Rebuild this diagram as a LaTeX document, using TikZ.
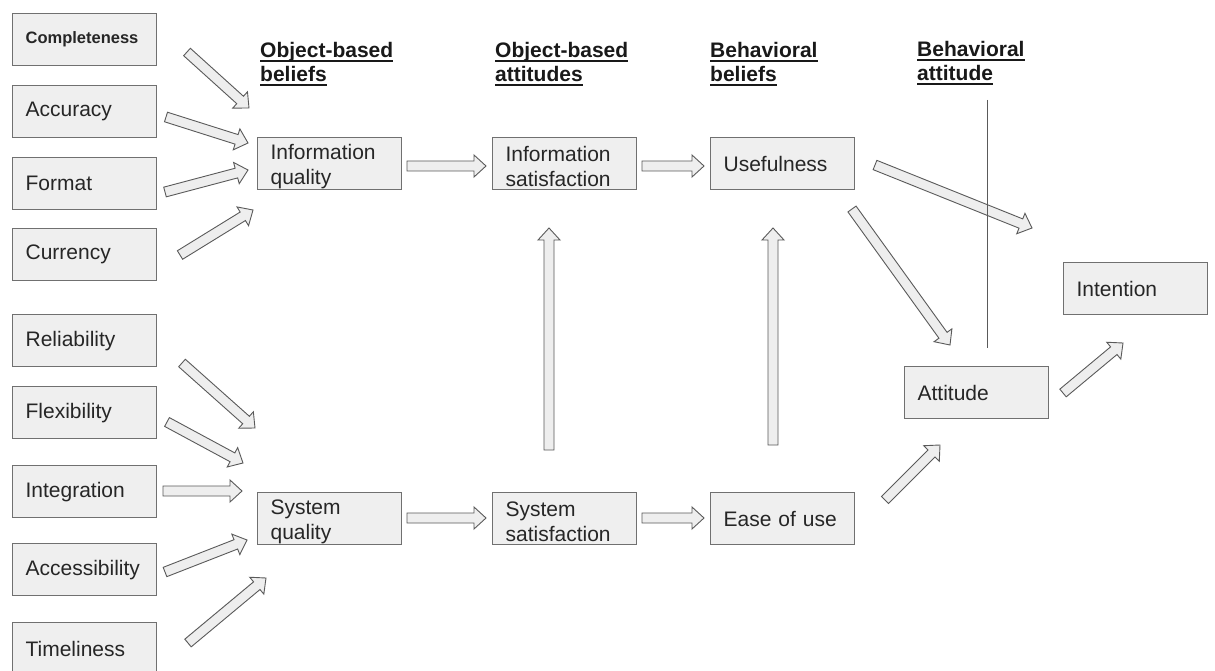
\documentclass[tikz,border=0pt]{standalone}
\usepackage{fontspec}
\setmainfont{Liberation Sans}
\usetikzlibrary{calc}
\definecolor{boxfill}{HTML}{EFEFEF}
\definecolor{boxline}{HTML}{707070}
\definecolor{txt}{HTML}{262626}
\definecolor{arrfill}{HTML}{EEEEEE}
\definecolor{arrline}{HTML}{5A5A5A}
\newcommand{\hdul}[1]{\setbox0\hbox{#1}\rlap{\vrule height -2.4pt depth 4.2pt width \wd0}\box0}
\newcommand{\lowstrut}{\rule{0pt}{21pt}}
\newcommand{\blkarrow}[2]{%
  \coordinate (nk) at ($(#2)!12pt!(#1)$);
  \draw[barrow] ($(#1)!5pt!90:(#2)$) -- ($(nk)!5pt!-90:(#1)$) -- ($(nk)!11pt!-90:(#1)$) -- (#2)
    -- ($(nk)!11pt!90:(#1)$) -- ($(nk)!5pt!90:(#1)$) -- ($(#1)!5pt!-90:(#2)$) -- cycle;}
\tikzset{
  box/.style={draw=boxline, line width=1.2pt, fill=boxfill, anchor=north west,
    minimum width=144pt, minimum height=52pt, inner sep=0pt, text width=118pt,
    align=left, text=txt, font=\fontsize{21}{25}\selectfont},
  barrow/.style={draw=arrline, line width=0.9pt, fill=arrfill, line join=miter},
  head/.style={anchor=north west, inner sep=0pt, align=left,
    font=\fontsize{21}{24}\selectfont\bfseries, text=black!90},
}
\begin{document}
\begin{tikzpicture}[x=1pt,y=-1pt]
\clip (0,0) rectangle (1215,671);
\fill[white] (0,0) rectangle (1215,671);
% left boxes
\node[box, font=\fontsize{16.5}{20}\selectfont\bfseries] (c1) at (12,13) {Completeness};
\node[box] (c2) at (12,85) {Accuracy};
\node[box] (c3) at (12,157) {Format};
\node[box] (c4) at (12,228) {Currency};
\node[box] (s1) at (12,314) {Reliability};
\node[box] (s2) at (12,386) {Flexibility};
\node[box] (s3) at (12,465) {Integration};
\node[box] (s4) at (12,543) {Accessibility};
\node[box] (s5) at (12,622) {Timeliness};
% middle boxes
\node[box] (iq) at (257,137) {\lowstrut Information\\quality};
\node[box] (sq) at (257,492) {\lowstrut System\\quality};
\node[box] (isat) at (492,137) {\lowstrut Information\\satisfaction};
\node[box] (ssat) at (492,492) {\lowstrut System\\satisfaction};
\node[box] (use) at (710,137) {Usefulness};
\node[box] (ease) at (710,492) {Ease of use};
\node[box] (att) at (904,366) {Attitude};
\node[box] (int) at (1063,262) {Intention};
% headers
\node[head] (h1) at (260,42) {\hdul{Object-based}\\\hdul{beliefs}};
\node[head] (h2) at (495,42) {\hdul{Object-based}\\\hdul{attitudes}};
\node[head] (h3) at (710,42) {\hdul{Behavioral}\\\hdul{beliefs}};
\node[head] (h4) at (917,41) {\hdul{Behavioral}\\\hdul{attitude}};
% arrow end points
\coordinate (a1t) at (187,52);  \coordinate (a1h) at (249,108);
\coordinate (a2t) at (166,117); \coordinate (a2h) at (248,143);
\coordinate (a3t) at (165,192); \coordinate (a3h) at (248,170);
\coordinate (a4t) at (180,255); \coordinate (a4h) at (253,210);
\coordinate (a5t) at (182,363); \coordinate (a5h) at (255,428);
\coordinate (a6t) at (167,422); \coordinate (a6h) at (243,463);
\coordinate (a7t) at (163,491); \coordinate (a7h) at (242,491);
\coordinate (a8t) at (165,572); \coordinate (a8h) at (247,540);
\coordinate (a9t) at (188,643); \coordinate (a9h) at (266,578);
\coordinate (a10t) at (407,166); \coordinate (a10h) at (486,166);
\coordinate (a11t) at (642,166); \coordinate (a11h) at (704,166);
\coordinate (a12t) at (407,518); \coordinate (a12h) at (486,518);
\coordinate (a13t) at (642,518); \coordinate (a13h) at (704,518);
\coordinate (a14t) at (549,450); \coordinate (a14h) at (549,228);
\coordinate (a15t) at (773,445); \coordinate (a15h) at (773,228);
\coordinate (a16t) at (875,165); \coordinate (a16h) at (1032,228);
\coordinate (a17t) at (852,209); \coordinate (a17h) at (950,345);
\coordinate (a18t) at (1063,393); \coordinate (a18h) at (1123,343);
\coordinate (a19t) at (885,500); \coordinate (a19h) at (940,445);
\foreach \i in {1,...,19}{\blkarrow{a\i t}{a\i h}}
% vertical line
\coordinate (v1) at (987,100);
\coordinate (v2) at (987,348);
\draw[draw=arrline, line width=1pt] (v1) -- (v2);
\end{tikzpicture}
\end{document}
